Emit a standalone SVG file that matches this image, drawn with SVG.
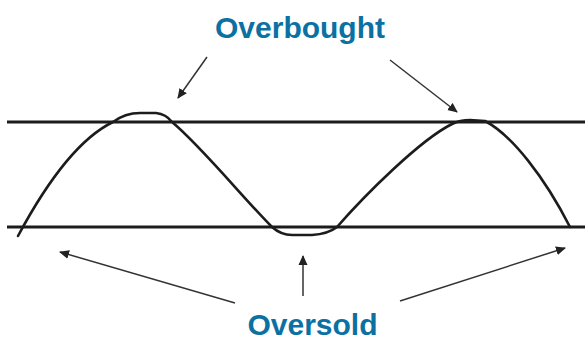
<svg xmlns="http://www.w3.org/2000/svg" width="585" height="341" viewBox="0 0 585 341">
<style>
.lvl{stroke:#1c1c1c;stroke-width:3;fill:none}
.wave{stroke:#1c1c1c;stroke-width:2.6;fill:none;stroke-linejoin:round;stroke-linecap:round}
.arr{stroke:#333;stroke-width:1.5;fill:none}
.lbl{font-family:"Liberation Sans",Arial,sans-serif;font-weight:bold;font-size:30px;fill:#0b71a3;text-anchor:middle}
</style>
<defs>
<marker id="ah" viewBox="0 0 10 10" refX="9" refY="5" markerWidth="10" markerHeight="10" markerUnits="userSpaceOnUse" orient="auto">
<path d="M0,0.5 L10,5 L0,9.5 Z" fill="#222"/>
</marker>
</defs>
<rect width="585" height="341" fill="#fff"/>
<g id="levels">
<line class="lvl" x1="7" y1="122" x2="585" y2="122"/>
<line class="lvl" x1="7" y1="227" x2="585" y2="227"/>
</g>
<g id="wave">
<path class="wave" d="M18,236 C48,180 80,138 113,122 Q125,113 140,113 L156,113 Q166,114 172,122 C200,145 245,200 272,227 Q281,235 292,235 L312,235 Q328,234 337,227 C365,195 420,140 452,124 Q460,120 470,120 L485,121 C512,135 545,178 570,227"/>
</g>
<g id="connectors">
<line class="arr" x1="207" y1="57" x2="178" y2="98" marker-end="url(#ah)"/>
<line class="arr" x1="390" y1="60" x2="457" y2="112" marker-end="url(#ah)"/>
<line class="arr" x1="235" y1="303" x2="60" y2="252" marker-end="url(#ah)"/>
<line class="arr" x1="303" y1="296" x2="303" y2="256" marker-end="url(#ah)"/>
<line class="arr" x1="400" y1="301" x2="565" y2="248" marker-end="url(#ah)"/>
</g>
<g id="overbought"><text class="lbl" x="300" y="38">Overbought</text></g>
<g id="oversold"><text class="lbl" x="312.5" y="335">Oversold</text></g>
</svg>
